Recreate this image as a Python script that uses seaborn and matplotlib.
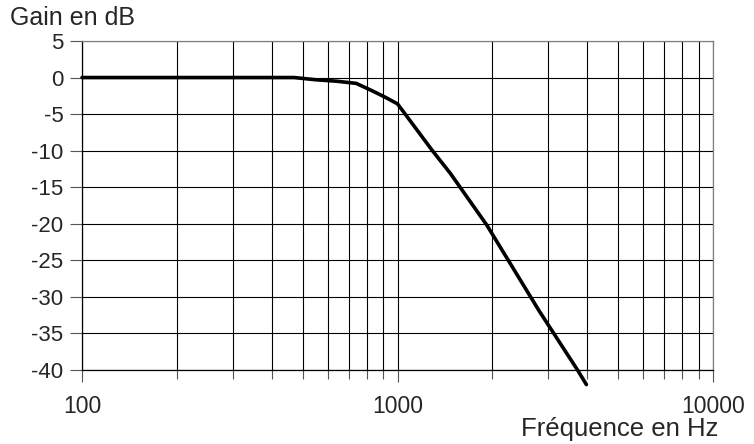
import matplotlib
matplotlib.use("Agg")
import matplotlib.pyplot as plt
import matplotlib.ticker as ticker
import seaborn as sns

# gain of the filter
freq_hz = [100, 200, 300, 400, 470, 550, 640, 740, 830, 915, 1000, 1045,
           1290, 1470, 1920, 2810, 3720, 3970]
gain_db = [0, 0, 0, 0, 0, -0.3, -0.5, -0.8, -1.8, -2.7, -3.6, -4.7,
           -10, -13.1, -20.2, -31.9, -40, -42]

y_ticks = list(range(-40, 6, 5))
x_major = [100, 1000, 10000]


def main() -> None:
    sns.set_theme(style="white")
    plt.rcParams["font.family"] = ["Liberation Sans", "DejaVu Sans"]
    plt.rcParams["axes.unicode_minus"] = False

    fig = plt.figure(figsize=(7.54, 4.44), dpi=100)
    ax = fig.add_axes([0.1088, 0.1667, 0.8368, 0.741])

    sns.lineplot(x=freq_hz, y=gain_db, ax=ax, color="black", linewidth=2.6,
                 sort=False, estimator=None)
    for ln in ax.lines:
        ln.set_clip_on(False)
        ln.set_zorder(5)

    ax.set_xscale("log")
    ax.set_xlim(100, 10000)
    ax.set_ylim(-40, 5)
    ax.set_yticks(y_ticks)
    ax.xaxis.set_major_locator(ticker.FixedLocator(x_major))
    ax.xaxis.set_major_formatter(ticker.FuncFormatter(lambda v, _: f"{v:g}"))
    ax.xaxis.set_minor_locator(ticker.LogLocator(base=10, subs=range(2, 10)))
    ax.xaxis.set_minor_formatter(ticker.NullFormatter())

    ax.grid(True, which="both", axis="x", color="black", linewidth=0.8)
    ax.grid(True, which="major", axis="y", color="black", linewidth=0.8)

    ax.tick_params(axis="x", which="major", direction="out", length=8.7, width=0.8,
                   color="#555555", pad=9.5, labelsize=16.5, bottom=True)
    ax.tick_params(axis="x", which="minor", direction="out", length=6.5, width=0.8,
                   color="#555555", bottom=True)
    ax.tick_params(axis="y", direction="out", length=8.5, width=0.8,
                   color="#555555", pad=5, labelsize=16, left=True)

    for side in ["top", "right"]:
        ax.spines[side].set_color("#808080")
    for side in ["left", "bottom"]:
        ax.spines[side].set_color("black")
    for sp in ax.spines.values():
        sp.set_linewidth(0.9)

    ax.set_xlabel("")
    ax.set_ylabel("")
    fig.text(0.013, 0.944, "Gain en dB", fontsize=18, ha="left", va="baseline")
    fig.text(0.953, 0.017, "Fréquence en Hz", fontsize=18.5, ha="right", va="baseline")

    fig.savefig("out.png", dpi=100)
    plt.close(fig)


if __name__ == "__main__":
    main()
